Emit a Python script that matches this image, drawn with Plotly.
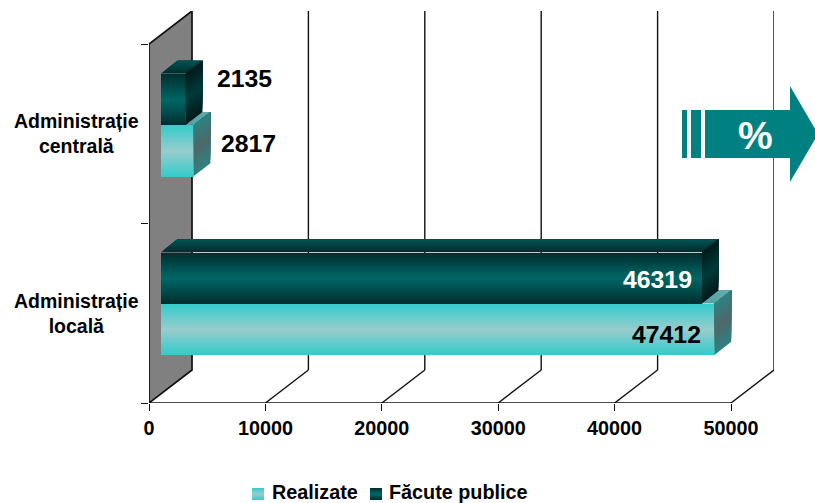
import plotly.graph_objects as go

W, H = 815, 503

# ---- data ----
categories = ["Administrație<br>locală", "Administrație<br>centrală"]
realizate = [47412, 2817]
facute_publice = [46319, 2135]
series_names = ["Realizate", "Făcute publice"]
x_ticks = [0, 10000, 20000, 30000, 40000, 50000]

# ---- style ----
FONT = "Liberation Sans"
LINE = "#111111"
TEAL = "#008080"
REAL_EDGE, REAL_MID = (51, 204, 204), (153, 204, 204)
FAC_EDGE, FAC_MID = (0, 46, 46), (0, 102, 102)
REAL_SIDE_EDGE, REAL_SIDE_MID = (46, 130, 130), (78, 104, 104)
FAC_SIDE_EDGE, FAC_SIDE_MID = (0, 26, 26), (0, 58, 58)
REAL_TOP_FRONT, REAL_TOP_BACK = (80, 165, 165), (100, 170, 170)
FAC_TOP_FRONT, FAC_TOP_BACK = (0, 44, 44), (0, 84, 84)


def px_x(p):
    return p / W


def px_y(p):
    return 1 - p / H


def mix(a, b, t):
    return "rgb(%d,%d,%d)" % tuple(round(a[i] + (b[i] - a[i]) * t) for i in range(3))


def sym(k, n):
    """0 at the edges of a band stack, 1 in the middle."""
    return 1 - abs((k + 0.5) / n * 2 - 1)


fig = go.Figure()
shapes = []

# ---- scene axes (wall, floor, back grid) ----
PX_PER_X = (731 - 149) / 50000
PX_PER_Y = (403 - 44) / 2
DX_SCENE = 43 / PX_PER_X
DY_SCENE = 33 / PX_PER_Y


def scene_line(x0, y0, x1, y1, w=1.4):
    shapes.append(dict(type="line", xref="x", yref="y", x0=x0, y0=y0, x1=x1, y1=y1,
                       line=dict(color=LINE, width=w), layer="below"))


shapes.append(dict(type="path", xref="x", yref="y", layer="below",
                   path=f"M0,0 L{DX_SCENE},{DY_SCENE} L{DX_SCENE},{2 + DY_SCENE} L0,2 Z",
                   fillcolor="#808080", line=dict(color=LINE, width=1.7)))
for v in x_ticks[1:]:
    scene_line(v, 0, v + DX_SCENE, DY_SCENE)
    scene_line(v + DX_SCENE, DY_SCENE, v + DX_SCENE, 2 + DY_SCENE)
scene_line(0, 0, 50000, 0, 1.6)

# an invisible point keeps the scene subplot alive
fig.add_trace(go.Scatter(x=[0], y=[0], mode="markers", marker=dict(opacity=0),
                         xaxis="x", yaxis="y", showlegend=False, hoverinfo="skip"))

# ---- bars, on their own axes set inside the depth of the scene ----
BAR_H = 0.287
N = 26
PX_PER_X2 = 11.68 / 1000
PX_PER_Y2 = 178.6
DX = 16.5 / PX_PER_X2
DY = 12.8 / PX_PER_Y2


def add_series(name, values, offset, edge, mid):
    ys, xs, cols = [], [], []
    dh = BAR_H / N
    for c, v in enumerate(values):
        for k in range(N):
            ys.append(c + offset + (k + 0.5) * dh)
            xs.append(v)
            cols.append(mix(edge, mid, sym(k, N)))
    fig.add_trace(go.Bar(x=xs, y=ys, orientation="h", width=dh * 1.05, name=name,
                         marker=dict(color=cols, line=dict(width=0)),
                         xaxis="x2", yaxis="y2", showlegend=False))


def poly(pts, color):
    path = "M" + " L".join(f"{a},{b}" for a, b in pts) + " Z"
    shapes.append(dict(type="path", xref="x2", yref="y2", path=path, layer="above",
                       fillcolor=color, line=dict(width=0)))


def add_depth(values, offset, side_edge, side_mid, top_front, top_back, x_from=None):
    ns, nt = 14, 5
    dh = BAR_H / ns
    for c, v in enumerate(values):
        y_top = c + offset + BAR_H
        x0 = 0 if x_from is None else x_from[c]
        # each band runs on to the far edge, so later bands overpaint it without seams
        for k in range(nt):
            t0 = k / nt
            col = mix(top_front, top_back, (k + 0.5) / nt)
            poly([(x0 + DX * t0 * (x_from is None), y_top + DY * t0),
                  (v + DX * t0, y_top + DY * t0),
                  (v + DX, y_top + DY),
                  (x0 + DX * (x_from is None), y_top + DY)], col)
        for k in range(ns):
            y0 = c + offset + k * dh
            col = mix(side_edge, side_mid, sym(k, ns))
            poly([(v, y0), (v + DX, y0 + DY), (v + DX, y_top + DY), (v, y_top)], col)


add_series(series_names[0], realizate, -BAR_H, REAL_EDGE, REAL_MID)
add_series(series_names[1], facute_publice, 0, FAC_EDGE, FAC_MID)
# the lower bar's top shows only beyond the end of the upper bar
add_depth(realizate, -BAR_H, REAL_SIDE_EDGE, REAL_SIDE_MID, REAL_TOP_FRONT, REAL_TOP_BACK,
          x_from=facute_publice)
add_depth(facute_publice, 0, FAC_SIDE_EDGE, FAC_SIDE_MID, FAC_TOP_FRONT, FAC_TOP_BACK)

# ---- arrow ----
def arrow_rect(x0, x1):
    shapes.append(dict(type="rect", xref="paper", yref="paper", x0=px_x(x0), x1=px_x(x1),
                       y0=px_y(158), y1=px_y(110), fillcolor=TEAL, line=dict(width=0)))


arrow_rect(682, 687)
arrow_rect(691, 701)
pts = [(705, 110), (790, 110), (790, 86), (818, 134), (790, 182), (790, 158), (705, 158)]
shapes.append(dict(type="path", xref="paper", yref="paper", fillcolor=TEAL, line=dict(width=0),
                   path="M" + " L".join(f"{px_x(a)},{px_y(b)}" for a, b in pts) + " Z"))

# ---- legend swatches ----
for left, edge, mid in [(252, REAL_EDGE, REAL_MID), (370, FAC_EDGE, FAC_MID)]:
    n = 12
    for k in range(n):
        shapes.append(dict(type="rect", xref="paper", yref="paper",
                           x0=px_x(left), x1=px_x(left + 12),
                           y0=px_y(488 + k), y1=px_y(489 + k),
                           fillcolor=mix(edge, mid, sym(k, n)), line=dict(width=0)))

# ---- text ----
def bold(size, color="black"):
    return dict(family=FONT, size=size, color=color, weight=700)


notes = []
for lab, yv in zip(categories, [0.5, 1.5]):
    notes.append(dict(text=lab, xref="paper", yref="y", x=px_x(76.5), y=yv, showarrow=False,
                      xanchor="center", yanchor="middle", align="center", font=bold(19.5)))


def value_label(v, c, offset, anchor, dx, dy, color="black"):
    notes.append(dict(text=str(v), xref="x2", yref="y2", x=v, y=c + offset, showarrow=False,
                      xanchor=anchor, yanchor="middle", xshift=dx, yshift=dy, font=bold(24.8, color)))


value_label(facute_publice[1], 1, BAR_H / 2, "left", 29, 21)
value_label(realizate[1], 1, -BAR_H / 2, "left", 25, 7)
value_label(facute_publice[0], 0, BAR_H / 2, "right", -8, -2, "white")
value_label(realizate[0], 0, -BAR_H / 2, "right", -12, -5)

notes.append(dict(text="%", xref="paper", yref="paper", x=px_x(755), y=px_y(135), showarrow=False,
                  xanchor="center", yanchor="middle", font=bold(39, "white")))
for name, left in zip(series_names, [269.5, 386.5]):
    notes.append(dict(text=name, xref="paper", yref="paper", x=px_x(left), y=px_y(491.5), showarrow=False,
                      xanchor="left", yanchor="middle", font=bold(19.8)))

fig.update_layout(
    width=W, height=H, autosize=False,
    margin=dict(l=0, r=0, t=0, b=0),
    paper_bgcolor="white", plot_bgcolor="rgba(0,0,0,0)",
    barmode="overlay", bargap=0, showlegend=False,
    shapes=shapes, annotations=notes,
    xaxis=dict(domain=[px_x(149), px_x(149 + (774 - 149))], range=[0, 50000 + DX_SCENE], anchor="y",
               automargin=False,
               tickmode="array", tickvals=x_ticks, ticktext=[str(v) for v in x_ticks],
               ticks="outside", ticklen=7, tickwidth=1.4, tickcolor=LINE,
               showgrid=False, zeroline=False, showline=False, tickfont=bold(19.8)),
    yaxis=dict(domain=[px_y(403), px_y(11)], range=[0, 2 + DY_SCENE], anchor="x",
               automargin=False,
               tickmode="array", tickvals=[0, 1, 2], ticktext=["", "", ""],
               ticks="outside", ticklen=7, tickwidth=1.4, tickcolor=LINE,
               showgrid=False, zeroline=False, showline=False),
    xaxis2=dict(domain=[px_x(161), px_x(161 + 584)], range=[0, 50000], anchor="y2",
                automargin=False, visible=False),
    yaxis2=dict(domain=[px_y(392.7), px_y(35.5)], range=[-0.5, 1.5], anchor="x2",
                automargin=False, visible=False),
)

# the page's default 8px body margin would push the chart out of the window
fig.write_html("out.html", config=dict(displayModeBar=False),
               post_script="document.body.style.margin='0';document.documentElement.style.overflow='hidden';")
